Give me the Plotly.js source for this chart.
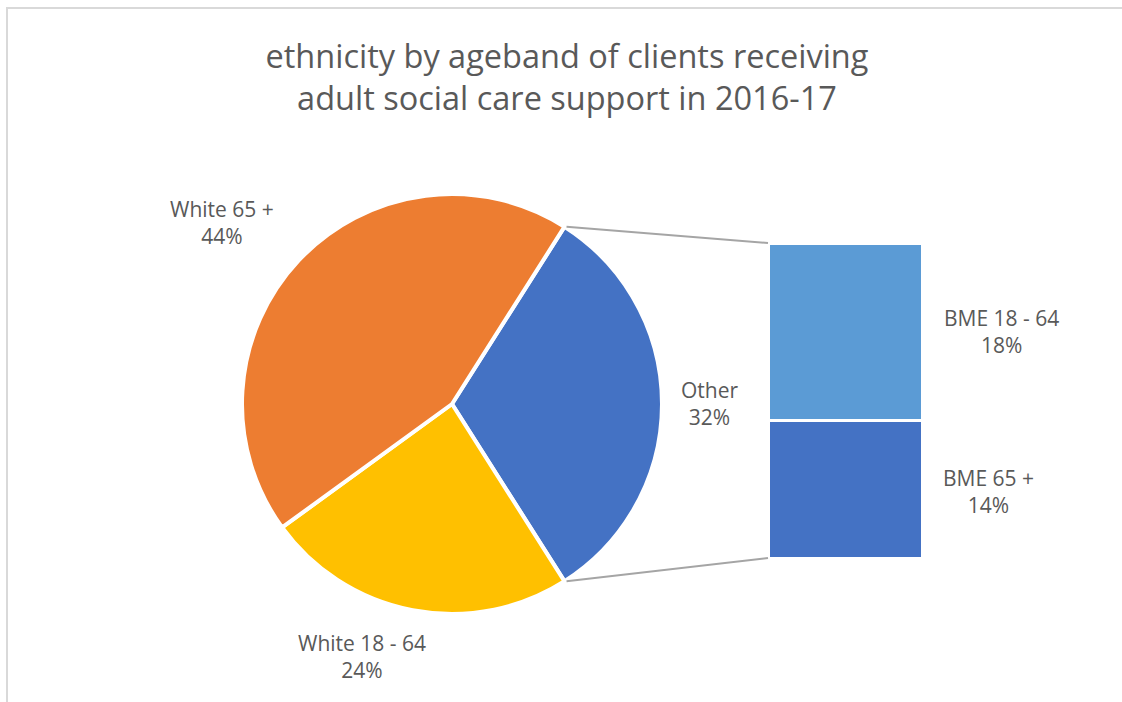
<!DOCTYPE html>
<html>
<head>
<meta charset="utf-8">
<script src="https://cdn.plot.ly/plotly-3.0.1.min.js"></script>
<style>html,body{margin:0;padding:0;background:#fff;}#chart{width:1122px;height:702px;}</style>
</head>
<body>
<div id="chart"></div>
<script>
// ---- data ----
const pieLabels = ["Other", "White 18 - 64", "White 65 +"];
const pieValues = [32, 24, 44];
const pieColors = ["#4472C4", "#FFC000", "#ED7D31"];
const barLabels = ["BME 65 +", "BME 18 - 64"];
const barValues = [14, 18];
const barColors = ["#4472C4", "#5B9BD5"];
const titleText = "ethnicity by ageband of clients receiving<br>adult social care support in 2016-17";

// ---- layout constants (pixels) ----
const W = 1122, H = 702;
const px = x => x / W, py = y => 1 - y / H;
const pieCx = 452, pieCy = 404, pieR = 210;
const barX0 = 768, barX1 = 922, barTop = 243, barBottom = 558;

const total = pieValues.reduce((a, b) => a + b, 0);
const otherFrac = pieValues[0] / total;
const halfAngle = otherFrac * 180; // degrees above/below 3 o'clock
const rotation = 90 - halfAngle;

const font = "'Open Sans', 'Noto Sans', sans-serif";
const grey = "#595959";

const traces = [
  {
    type: "pie",
    labels: pieLabels,
    values: pieValues,
    sort: false,
    direction: "clockwise",
    rotation: rotation,
    marker: {colors: pieColors, line: {color: "#ffffff", width: 4}},
    textinfo: "none",
    hoverinfo: "label+percent",
    domain: {x: [px(pieCx - pieR), px(pieCx + pieR)], y: [py(pieCy + pieR), py(pieCy - pieR)]},
    showlegend: false
  }
];
barLabels.forEach((lab, i) => {
  traces.push({
    type: "bar",
    x: [0],
    y: [barValues[i]],
    name: lab,
    width: [1],
    marker: {color: barColors[i], line: {color: "#ffffff", width: 3}},
    xaxis: "x",
    yaxis: "y",
    showlegend: false,
    hoverinfo: "name+y"
  });
});

const barTotal = barValues.reduce((a, b) => a + b, 0);

// connector lines from pie slice edges to bar corners
const rad = halfAngle * Math.PI / 180;
const topPt = [pieCx + pieR * Math.cos(rad), pieCy - pieR * Math.sin(rad)];
const botPt = [pieCx + pieR * Math.cos(rad), pieCy + pieR * Math.sin(rad)];

const shapes = [
  {type: "rect", xref: "paper", yref: "paper", x0: px(7), x1: 1.02, y0: -0.02, y1: py(8),
   line: {color: "#d9d9d9", width: 2}, fillcolor: "rgba(0,0,0,0)", layer: "below"},
  {type: "line", xref: "paper", yref: "paper", x0: px(topPt[0] + 2), y0: py(topPt[1]), x1: px(barX0), y1: py(barTop),
   line: {color: "#A5A5A5", width: 2}},
  {type: "line", xref: "paper", yref: "paper", x0: px(botPt[0] + 2), y0: py(botPt[1]), x1: px(barX0), y1: py(barBottom),
   line: {color: "#A5A5A5", width: 2}}
];

// label positions (pixel centers)
const pieLabelPos = [[709, 403], [362, 656], [222, 222]];
const barLabelPos = [[988, 491], [1001, 331]];
const annotations = [];
pieLabels.forEach((lab, i) => {
  annotations.push({xref: "paper", yref: "paper", x: px(pieLabelPos[i][0]), y: py(pieLabelPos[i][1]),
    text: lab + "<br>" + pieValues[i] + "%", showarrow: false, align: "center",
    xanchor: "center", yanchor: "middle", font: {family: font, size: 21, color: grey}});
});
barLabels.forEach((lab, i) => {
  annotations.push({xref: "paper", yref: "paper", x: px(barLabelPos[i][0]), y: py(barLabelPos[i][1]),
    text: lab + "<br>" + barValues[i] + "%", showarrow: false, align: "center",
    xanchor: "center", yanchor: "middle", font: {family: font, size: 21, color: grey}});
});

const layout = {
  width: W, height: H,
  margin: {l: 0, r: 0, t: 0, b: 0},
  paper_bgcolor: "#ffffff", plot_bgcolor: "rgba(0,0,0,0)",
  title: {text: titleText, x: px(567), xanchor: "center", y: 1 - 68 / H, yanchor: "middle", yref: "container",
          font: {family: font, size: 32.5, color: grey}},
  barmode: "stack",
  xaxis: {domain: [px(barX0), px(barX1)], range: [-0.5, 0.5], visible: false, fixedrange: true},
  yaxis: {domain: [py(barBottom), py(barTop)], range: [0, barTotal], visible: false, fixedrange: true},
  shapes: shapes,
  annotations: annotations,
  font: {family: font, color: grey}
};

Plotly.newPlot("chart", traces, layout, {displayModeBar: false, staticPlot: true});
</script>
</body>
</html>
